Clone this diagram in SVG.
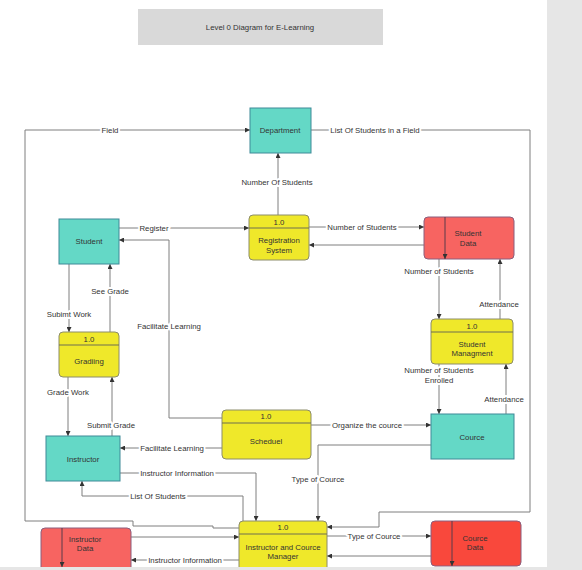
<svg xmlns="http://www.w3.org/2000/svg" width="582" height="570" viewBox="0 0 582 570">
  <defs>
    <marker id="arrow" viewBox="0 0 5 5" refX="5" refY="2.5" markerWidth="5" markerHeight="5" markerUnits="userSpaceOnUse" orient="auto">
      <path d="M0,0 L5,2.5 L0,5 z" fill="#333"/>
    </marker>
    <style>
      text { font-family: "Liberation Sans", Arial, sans-serif; font-size: 7.8px; fill: #333; text-anchor: middle; }
      .lbl { stroke: #fff; stroke-width: 4px; paint-order: stroke; stroke-linejoin: round; }
      .flow { fill: none; stroke: #7f7f7f; stroke-width: 1; marker-end: url(#arrow); }
      .entity { fill: #64d8c6; stroke: #3f8a98; stroke-width: 1; }
      .process { fill: #efe82a; stroke: #8c8c6a; stroke-width: 1; }
      .divider { stroke: #6f6f50; stroke-width: 1; }
      .store { fill: #f76461; stroke: #8a5f7e; stroke-width: 1; }
      .store2 { fill: #f9483c; stroke: #8a5f7e; stroke-width: 1; }
      .storeline { stroke: #5a3a4a; stroke-width: 1; marker-end: url(#arrow); }
    </style>
  </defs>

  <!-- canvas -->
  <rect x="0" y="0" width="582" height="570" fill="#e6e6e6"/>
  <rect x="0" y="0" width="547" height="567" fill="#ffffff"/>

  <!-- title -->
  <g id="title">
    <rect x="138" y="9" width="245" height="36" fill="#d9d9d9"/>
    <text x="260" y="29.7">Level 0 Diagram for E-Learning</text>
  </g>

  <!-- connectors -->
  <g id="connectors">
    <path class="flow" d="M239,528 H213 V526 H133 V521 H25 V130 H250"/>
    <path class="flow" d="M311,130 H530 V512 H379 V527 H327"/>
    <path class="flow" d="M278,215 V153"/>
    <path class="flow" d="M119,228 H249"/>
    <path class="flow" d="M222,418 H169 V240 H119"/>
    <path class="flow" d="M309,227 H424"/>
    <path class="flow" d="M424,245 H309"/>
    <path class="flow" d="M439,259 V319"/>
    <path class="flow" d="M500,319 V259"/>
    <path class="flow" d="M69,264 V332"/>
    <path class="flow" d="M110,332 V264"/>
    <path class="flow" d="M68,377 V436"/>
    <path class="flow" d="M112,436 V377"/>
    <path class="flow" d="M439,364 V414"/>
    <path class="flow" d="M506,414 V364"/>
    <path class="flow" d="M311,425 H431"/>
    <path class="flow" d="M222,448 H120"/>
    <path class="flow" d="M120,473 H256 V521"/>
    <path class="flow" d="M243,521 V496 H82 V481"/>
    <path class="flow" d="M431,445 H318 V521"/>
    <path class="flow" d="M327,536 H431"/>
    <path class="flow" d="M431,556 H327"/>
    <path class="flow" d="M131,537 H239"/>
    <path class="flow" d="M239,560 H131"/>

    <!-- flow labels -->
    <text class="lbl" x="110" y="132.7">Field</text>
    <text class="lbl" x="375" y="132.7">List Of Students in a Field</text>
    <text class="lbl" x="277" y="184.7">Number Of Students</text>
    <text class="lbl" x="154" y="230.7">Register</text>
    <text class="lbl" x="362" y="229.7">Number of Students</text>
    <text class="lbl" x="439" y="273.7">Number of Students</text>
    <text class="lbl" x="499" y="306.7">Attendance</text>
    <text class="lbl" x="169" y="328.7">Facilitate Learning</text>
    <text class="lbl" x="69" y="316.7">Subimt Work</text>
    <text class="lbl" x="110" y="293.7">See Grade</text>
    <text class="lbl" x="68" y="394.7">Grade Work</text>
    <text class="lbl" x="439" y="372.7">Number of Students</text>
    <text class="lbl" x="439" y="382.7">Enrolled</text>
    <text class="lbl" x="504" y="401.7">Attendance</text>
    <text class="lbl" x="111" y="427.7">Submit Grade</text>
    <text class="lbl" x="367" y="427.7">Organize the cource</text>
    <text class="lbl" x="172" y="450.7">Facilitate Learning</text>
    <text class="lbl" x="177" y="475.7">Instructor Information</text>
    <text class="lbl" x="318" y="481.7">Type of Cource</text>
    <text class="lbl" x="158" y="498.7">List Of Students</text>
    <text class="lbl" x="374" y="538.7">Type of Cource</text>
    <text class="lbl" x="185" y="562.7">Instructor Information</text>
  </g>

  <!-- external entities -->
  <g id="department">
    <rect class="entity" x="250" y="108" width="61" height="45"/>
    <text x="280" y="132.7">Department</text>
  </g>
  <g id="student">
    <rect class="entity" x="59" y="219" width="60" height="45"/>
    <text x="89" y="243.7">Student</text>
  </g>
  <g id="instructor">
    <rect class="entity" x="46" y="436" width="74" height="45"/>
    <text x="83" y="461.7">Instructor</text>
  </g>
  <g id="cource">
    <rect class="entity" x="431" y="414" width="83" height="45"/>
    <text x="472" y="439.7">Cource</text>
  </g>

  <!-- processes -->
  <g id="registration-system">
    <rect class="process" x="249" y="215" width="60" height="45" rx="4"/>
    <line class="divider" x1="249" y1="228" x2="309" y2="228"/>
    <text x="279" y="224.7">1.0</text>
    <text x="279" y="242.7">Registration</text>
    <text x="279" y="252.7">System</text>
  </g>
  <g id="gradiing">
    <rect class="process" x="59" y="332" width="60" height="45" rx="4"/>
    <line class="divider" x1="59" y1="345" x2="119" y2="345"/>
    <text x="89" y="341.7">1.0</text>
    <text x="89" y="364.2">Gradiing</text>
  </g>
  <g id="student-managment">
    <rect class="process" x="431" y="319" width="82" height="45" rx="4"/>
    <line class="divider" x1="431" y1="332" x2="513" y2="332"/>
    <text x="472" y="328.7">1.0</text>
    <text x="472" y="346.7">Student</text>
    <text x="472" y="356.4">Managment</text>
  </g>
  <g id="scheduel">
    <rect class="process" x="222" y="410" width="89" height="49" rx="4"/>
    <line class="divider" x1="222" y1="423" x2="311" y2="423"/>
    <text x="266" y="418.7">1.0</text>
    <text x="266" y="443.7">Scheduel</text>
  </g>
  <g id="instructor-and-cource-manager">
    <rect class="process" x="239" y="521" width="88" height="56" rx="4"/>
    <line class="divider" x1="239" y1="534" x2="327" y2="534"/>
    <text x="283" y="530.4">1.0</text>
    <text x="283" y="549.7">Instructor and Cource</text>
    <text x="283" y="559.4">Manager</text>
  </g>

  <!-- data stores -->
  <g id="student-data">
    <rect class="store" x="424" y="217" width="90" height="42" rx="4"/>
    <line class="storeline" x1="445" y1="217" x2="445" y2="259"/>
    <text x="468" y="235.7">Student</text>
    <text x="468" y="245.7">Data</text>
  </g>
  <g id="instructor-data">
    <rect class="store" x="41" y="528" width="90" height="48" rx="4"/>
    <line class="storeline" x1="62" y1="528" x2="62" y2="567"/>
    <text x="85" y="542">Instructor</text>
    <text x="85" y="551.4">Data</text>
  </g>
  <g id="cource-data">
    <rect class="store2" x="431" y="521" width="90" height="45" rx="4"/>
    <line class="storeline" x1="452" y1="521" x2="452" y2="566"/>
    <text x="475" y="541.4">Cource</text>
    <text x="475" y="550.4">Data</text>
  </g>

  <!-- lower page edge -->
  <rect x="0" y="567" width="582" height="3" fill="#e6e6e6"/>
</svg>
